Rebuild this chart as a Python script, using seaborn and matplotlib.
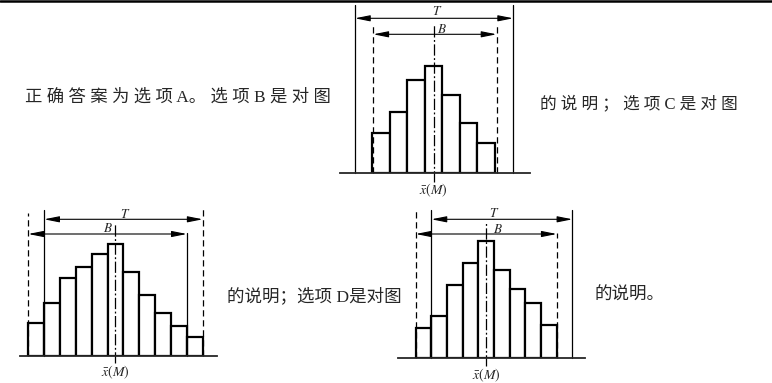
import numpy as np
import seaborn as sns
import matplotlib.pyplot as plt
from matplotlib.lines import Line2D

# 三个直方图的柱高（像素单位，读自原图）
heights_b = [40, 61, 93, 107, 78, 50, 30]
heights_c = [33, 53, 78, 89, 102, 112, 84, 61, 43, 30, 19]
heights_d = [30, 42, 73, 95, 117, 88, 69, 55, 33]

# T / B 范围（以柱序号为单位），均值所在柱
t_span_b, b_span_b, mean_b = (-1.5, 7.55), (-0.45, 6.6), 3
t_span_c, b_span_c, mean_c = (0.5, 10.5), (-0.5, 9.5), 5
t_span_d, b_span_d, mean_d = (0.5, 9.5), (-0.5, 8.5), 4

texts = ["正 确 答 案 为 选 项 A。 选 项 B 是 对 图",
         "的 说 明 ； 选 项 C 是 对 图",
         "的说明；选项 D是对图",
         "的说明。"]

sns.set_style("white")
plt.rcParams["mathtext.fontset"] = "stix"
plt.rcParams["font.family"] = ["Liberation Serif", "Noto Sans CJK SC", "DejaVu Sans"]

W, H = 772, 383
fig = plt.figure(figsize=(W / 100, H / 100), dpi=100)


def add_px_axes(x0, x1, y0, y1):
    return fig.add_axes([x0 / W, 1 - y1 / H, (x1 - x0) / W, (y1 - y0) / H])


def draw_panel(ax, heights, xlim, ylim, lines, t_span, t_y, b_span, b_y,
               mean, mean_top, mean_bot, t_lab, b_lab, xbar_y):
    idx = list(range(len(heights)))
    sns.barplot(x=idx, y=heights, color="white", edgecolor="black",
                linewidth=1.6, width=1, errorbar=None, saturation=1, ax=ax)
    ax.set_xlim(*xlim)
    ax.set_ylim(*ylim)
    ax.set(xlabel="", ylabel="", xticks=[], yticks=[])
    sns.despine(ax=ax, left=True, top=True, right=True)
    ax.spines["bottom"].set_linewidth(1.3)
    ax.patch.set_alpha(0)
    for x, top, ls in lines:
        ax.plot([x, x], [0, top], color="black", lw=0.9,
                ls=(0, (5, 3)) if ls == "dash" else "-", clip_on=False)
    arrow = dict(arrowstyle="<|-|>,head_length=0.9,head_width=0.18",
                 color="black", lw=0.8, shrinkA=0, shrinkB=0)
    ax.annotate("", xy=(t_span[0], t_y), xytext=(t_span[1], t_y),
                arrowprops=arrow, annotation_clip=False)
    ax.annotate("", xy=(b_span[0], b_y), xytext=(b_span[1], b_y),
                arrowprops=arrow, annotation_clip=False)
    ax.plot([mean, mean], [mean_bot, mean_top], color="black", lw=0.9,
            ls=(0, (9, 2, 1.5, 2)), clip_on=False)
    ax.text(t_lab[0], t_lab[1], "$T$", ha="center", va="center", fontsize=9.5)
    ax.text(b_lab[0], b_lab[1], "$B$", ha="center", va="center", fontsize=9.5)
    ax.text(mean, xbar_y, r"$\bar{x}(M)$", ha="center", va="center", fontsize=10)


ax1 = add_px_axes(340, 530, 0, 172.7)
draw_panel(ax1, heights_b, (-2.35, 8.51), (0, 172.7),
           [(t_span_b[0], 168, "solid"), (t_span_b[1], 168, "solid"),
            (b_span_b[0], 148, "dash"), (b_span_b[1], 148, "dash")],
           t_span_b, 154.4, b_span_b, 138.4, mean_b, 148, -9,
           (3.18, 161), (3.46, 143.5), -17.5)

ax2 = add_px_axes(20, 217, 196, 356)
draw_panel(ax2, heights_c, (-1.02, 11.4), (0, 160),
           [(-0.5, 143, "dash"), (0.5, 146, "solid"),
            (9.5, 123, "solid"), (10.5, 149, "dash")],
           t_span_c, 136.7, b_span_c, 122, mean_c, 132, -7,
           (5.6, 142), (4.55, 128), -16)

ax3 = add_px_axes(398, 585, 198.3, 358.3)
draw_panel(ax3, heights_d, (-1.63, 10.3), (0, 160),
           [(-0.5, 148, "dash"), (0.5, 148, "solid"),
            (8.5, 125, "dash"), (9.5, 148, "solid")],
           t_span_d, 139, b_span_d, 124.3, mean_d, 137, -8,
           (4.52, 145), (4.77, 129), -16.7)

# 顶部扫描边线
fig.add_artist(Line2D([0, 1], [1 - 1 / H, 1 - 1 / H], color="black", lw=1.8))

fig.text(25 / W, 1 - 97 / H, texts[0], fontsize=12.5, va="center", ha="left")
fig.text(540 / W, 1 - 104 / H, texts[1], fontsize=12, va="center", ha="left")
fig.text(227 / W, 1 - 296.5 / H, texts[2], fontsize=12.6, va="center", ha="left")
fig.text(595 / W, 1 - 296 / H, texts[3], fontsize=12.6, va="center", ha="left")

fig.savefig("out.png", dpi=100)
